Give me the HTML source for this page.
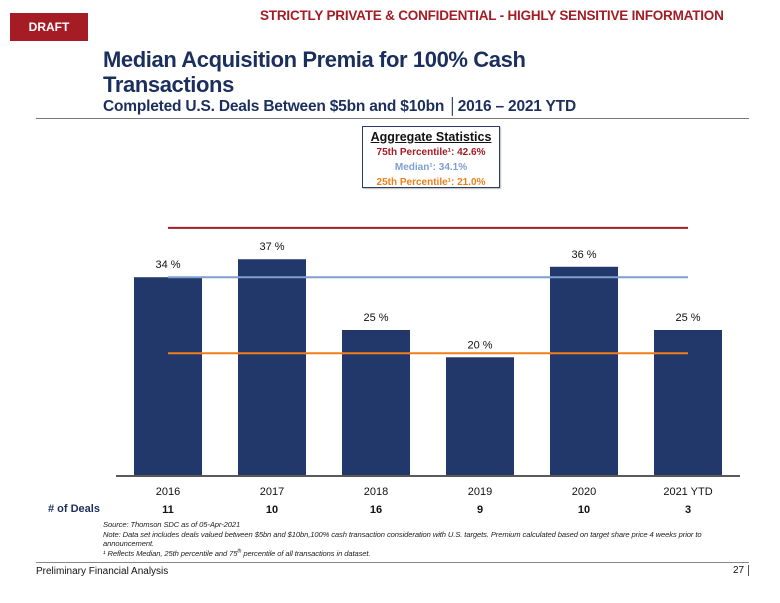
<!DOCTYPE html>
<html><head><meta charset="utf-8">
<style>
body{margin:0;width:780px;height:603px;background:#fff;font-family:"Liberation Sans",Arial,sans-serif;position:relative;overflow:hidden}
.a{position:absolute;white-space:nowrap}
</style></head><body>
<div class="a" style="left:10px;top:13px;width:78px;height:28px;background:#a51c24;color:#fff;font-weight:bold;font-size:12px;line-height:28px;text-align:center">DRAFT</div>
<div class="a" style="left:260px;top:8px;color:#a51c24;font-weight:bold;font-size:13.5px;letter-spacing:-0.2px">STRICTLY PRIVATE &amp; CONFIDENTIAL - HIGHLY SENSITIVE INFORMATION</div>
<div class="a" style="left:103px;top:47px;color:#1b2f5e;font-weight:bold;font-size:22px;line-height:25px;letter-spacing:-0.4px">Median Acquisition Premia for 100% Cash<br>Transactions</div>
<div class="a" style="left:103px;top:98px;color:#1b2f5e;font-weight:bold;font-size:15.5px;letter-spacing:-0.2px">Completed U.S. Deals Between $5bn and $10bn <span style="font-weight:normal">│</span>2016 – 2021 YTD</div>
<div class="a" style="left:36px;top:118px;width:713px;height:1px;background:#777"></div>
<div class="a" style="left:362px;top:126px;width:136px;height:60px;border:1px solid #2b3b6e;box-shadow:1px 1px 1px #bbb;text-align:center;font-weight:bold;font-size:10px;line-height:15px">
<div style="font-size:12.5px;text-decoration:underline;color:#111;margin-top:2px;line-height:16px">Aggregate Statistics</div>
<div style="color:#a51c24">75th Percentile¹: 42.6%</div>
<div style="color:#7f9fd0">Median¹: 34.1%</div>
<div style="color:#f07f1a">25th Percentile¹: 21.0%</div>
</div>
<svg class="a" style="left:0;top:0" width="780" height="603">
<g id="g"></g>
</svg>
<div class="a" style="left:48px;top:503px;color:#1b2f5e;font-weight:bold;font-size:11px"># of Deals</div>
<div class="a" style="left:103px;top:520px;font-style:italic;font-size:7.6px;line-height:9.6px;color:#222;white-space:normal;width:645px;letter-spacing:-0.1px">Source: Thomson SDC as of 05-Apr-2021<br>Note: Data set includes deals valued between $5bn and $10bn,100% cash transaction consideration with U.S. targets. Premium calculated based on target share price 4 weeks prior to announcement.<br>¹ Reflects Median, 25th percentile and 75<sup style="font-size:5px;line-height:0">th</sup> percentile of all transactions in dataset.</div>
<div class="a" style="left:36px;top:562px;width:713px;height:1px;background:#888"></div>
<div class="a" style="left:36px;top:566px;font-size:10px;color:#111">Preliminary Financial Analysis</div>
<div class="a" style="left:733px;top:565px;font-size:10px;color:#111;border-right:1px solid #555;padding-right:4px">27</div>
<script>
const categories=["2016","2017","2018","2019","2020","2021 YTD"];
const values=[34.1,37.2,25.0,20.3,35.9,25.0];
const deals=[11,10,16,9,10,3];
const p75=42.6, median=34.1, p25=21.0;
const NS="http://www.w3.org/2000/svg";
const g=document.getElementById('g');
const y0=475, pxPer=5.8, slot0=116, slotW=104, barW=68;
function yS(v){return y0-v*pxPer;}
function xC(i){return slot0+slotW*i+slotW/2;}
function mk(t,a){const e=document.createElementNS(NS,t);for(const k in a)e.setAttribute(k,a[k]);g.appendChild(e);return e;}
values.forEach((v,i)=>{
 const r=mk('rect',{x:xC(i)-barW/2,y:yS(v),width:barW,height:y0-yS(v),fill:'#22386a'});
 
 
 const t=mk('text',{x:xC(i),y:yS(v)-9,'text-anchor':'middle','font-size':'11',fill:'#111','font-family':'Liberation Sans'});
 t.textContent=Math.round(v)+' %';
 
 
 const c=mk('text',{x:xC(i),y:495,'text-anchor':'middle','font-size':'11',fill:'#111','font-family':'Liberation Sans'});
 c.textContent=categories[i];
 
 
 const d=mk('text',{x:xC(i),y:513,'text-anchor':'middle','font-size':'11','font-weight':'bold',fill:'#111','font-family':'Liberation Sans'});
 d.textContent=deals[i];
 
 
});
const ax=mk('line',{x1:slot0,x2:slot0+slotW*6,y1:y0+1,y2:y0+1,stroke:'#222','stroke-width':1.5});


[[p75,'#a51c24','p75-line'],[median,'#7f9fd0','median-line'],[p25,'#f07f1a','p25-line']].forEach(([v,c,n])=>{
 const l=mk('line',{x1:xC(0),x2:xC(5),y1:yS(v),y2:yS(v),stroke:c,'stroke-width':2});
 
 
});
</script>
</body></html>
